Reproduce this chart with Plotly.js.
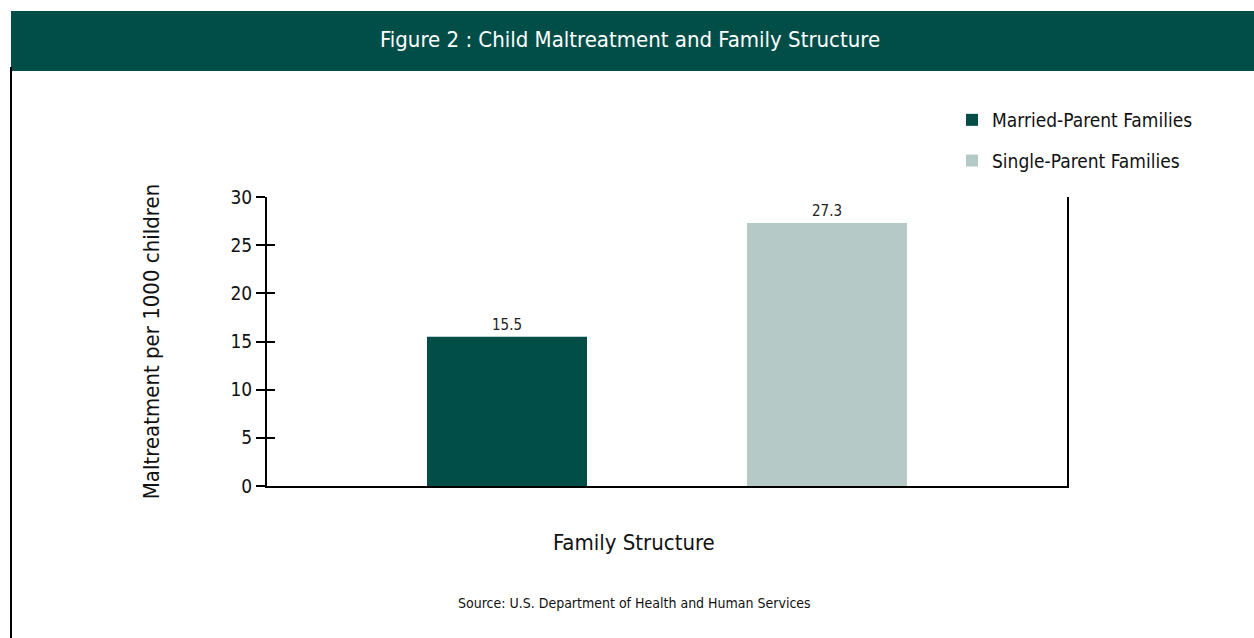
<!DOCTYPE html>
<html>
<head>
<meta charset="utf-8">
<script src="https://cdn.plot.ly/plotly-3.0.1.min.js"></script>
<style>html,body{margin:0;padding:0;background:#fff;}#chart{width:1254px;height:638px;}</style>
</head>
<body>
<div id="chart"></div>
<script>
// Data
const categories = ["Married-Parent Families", "Single-Parent Families"];
const seriesNames = ["Married-Parent Families", "Single-Parent Families"];
const values = [15.5, 27.3];
const valueLabels = ["15.5", "27.3"];
const yTickValues = [0, 5, 10, 15, 20, 25, 30];
const yTickLabels = ["0", "5", "10", "15", "20", "25", "30"];
const titleText = "Figure 2 : Child Maltreatment and Family Structure";
const xTitleText = "Family Structure";
const yTitleText = "Maltreatment per 1000 children";
const sourceText = "Source: U.S. Department of Health and Human Services";

const colors = ["#014e48", "#b5cac7"];
const FONT = "'Liberation Sans Narrow', 'DejaVu Sans Condensed', 'Roboto Condensed', sans-serif";

const W = 1254, H = 638;
const M = {l: 267, r: 187, t: 197, b: 152};
const pw = W - M.l - M.r, ph = H - M.t - M.b;
const px = x => (x - M.l) / pw;
const py = y => (H - M.b - y) / ph;

const traces = seriesNames.map((name, i) => ({
  type: "bar",
  name: name,
  legendgroup: "g" + i,
  x: [categories[i]],
  y: [values[i]],
  text: [valueLabels[i]],
  textposition: "outside",
  cliponaxis: false,
  textfont: {family: FONT, size: 15, color: "#222"},
  marker: {color: colors[i], line: {width: 0}},
  width: 0.5,
  hoverinfo: "skip"
}));

// invisible trace to carry inward ticks on overlaying axis
traces.push({type: "scatter", x: [categories[0]], y: [0], yaxis: "y2", mode: "none", showlegend: false, hoverinfo: "skip"});

const layout = {
  width: W, height: H,
  margin: M,
  paper_bgcolor: "#fff",
  plot_bgcolor: "#fff",
  font: {family: FONT, color: "#111"},
  barmode: "overlay",
  showlegend: true,
  legend: {
    x: px(952), y: py(101), xanchor: "left", yanchor: "top",
    font: {family: FONT, size: 19, color: "#111"},
    tracegroupgap: 13, itemwidth: 30, bgcolor: "rgba(0,0,0,0)",
    traceorder: "grouped"
  },
  xaxis: {
    type: "category",
    range: [-0.75, 1.75],
    showticklabels: false,
    ticks: "",
    showline: true, linecolor: "#000", linewidth: 2,
    showgrid: false, zeroline: false, fixedrange: true
  },
  yaxis: {
    range: [0, 30],
    tickvals: yTickValues, ticktext: yTickLabels,
    ticks: "outside", ticklen: 9, tickwidth: 2, tickcolor: "#000",
    tickfont: {family: FONT, size: 19, color: "#111"},
    showline: true, linecolor: "#000", linewidth: 2, mirror: true,
    showgrid: false, zeroline: false, fixedrange: true,
    title: {text: yTitleText, font: {family: FONT, size: 22, color: "#111"}, standoff: 65}
  },
  yaxis2: {
    overlaying: "y", side: "left",
    range: [0, 30],
    tickvals: yTickValues,
    ticks: "inside", ticklen: 8, tickwidth: 2, tickcolor: "#000",
    showticklabels: false, showline: false, showgrid: false, zeroline: false, fixedrange: true
  },
  shapes: [
    {type: "rect", xref: "paper", yref: "paper", x0: px(11), x1: px(1254), y0: py(71), y1: py(11),
     fillcolor: "#014e48", line: {width: 0}, layer: "below"},
    {type: "line", xref: "paper", yref: "paper", x0: px(11), x1: px(11), y0: py(67), y1: py(638),
     line: {color: "#000", width: 2}}
  ],
  annotations: [
    {text: titleText, xref: "paper", yref: "paper", x: px(630), y: py(40), xanchor: "center", yanchor: "middle",
     showarrow: false, font: {family: FONT, size: 22, color: "#fff"}},
    {text: xTitleText, xref: "paper", yref: "paper", x: px(634), y: py(542), xanchor: "center", yanchor: "middle",
     showarrow: false, font: {family: FONT, size: 22, color: "#111"}},
    {text: sourceText, xref: "paper", yref: "paper", x: px(634), y: py(603), xanchor: "center", yanchor: "middle",
     showarrow: false, font: {family: FONT, size: 14, color: "#111"}}
  ]
};

Plotly.newPlot("chart", traces, layout, {displayModeBar: false, staticPlot: true});
</script>
</body>
</html>
